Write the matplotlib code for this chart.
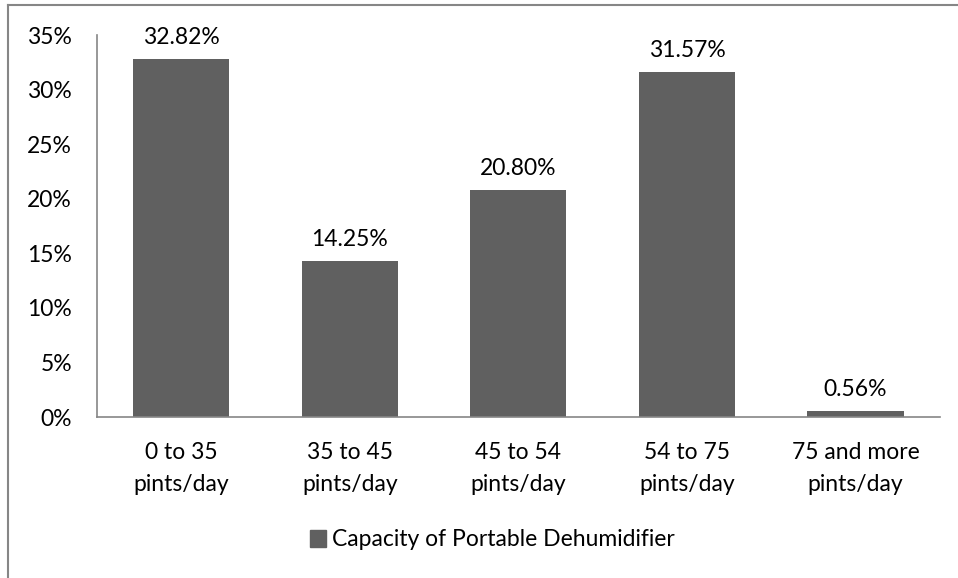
import matplotlib.pyplot as plt
from matplotlib.lines import Line2D
from matplotlib.patches import Patch

categories = ["0 to 35\npints/day", "35 to 45\npints/day", "45 to 54\npints/day",
              "54 to 75\npints/day", "75 and more\npints/day"]
values = [32.82, 14.25, 20.80, 31.57, 0.56]
yticks = [0, 5, 10, 15, 20, 25, 30, 35]
series_name = "Capacity of Portable Dehumidifier"

bar_color = "#606060"
axis_color = "#868686"
fs = 16.5
plt.rcParams['font.family'] = ['Lato', 'DejaVu Sans']

fig = plt.figure(figsize=(9.58, 5.78), dpi=100)
ax = fig.add_axes([0.1013, 0.2785, 0.8797, 0.6609])

x = range(len(values))
bars = ax.bar(x, values, width=0.57, color=bar_color, zorder=2)
for b, v in zip(bars, values):
    ax.annotate(f"{v:.2f}%", (b.get_x() + b.get_width() / 2, v),
                xytext=(0, 8), textcoords="offset points",
                ha="center", va="bottom", fontsize=fs, color="black")

ax.set_xlim(-0.5, len(values) - 0.5)
ax.set_ylim(0, 35)
ax.set_yticks(yticks)
ax.set_yticklabels([f"{t}%" for t in yticks], fontsize=fs)
ax.set_xticks(list(x))
ax.set_xticklabels(categories, fontsize=fs, linespacing=1.65)
ax.tick_params(axis="y", length=0, pad=18)
ax.tick_params(axis="x", length=0, pad=18)

for s in ["top", "right"]:
    ax.spines[s].set_visible(False)
for s in ["left", "bottom"]:
    ax.spines[s].set_color(axis_color)
    ax.spines[s].set_linewidth(1.2)

fig.legend(handles=[Patch(color=bar_color, label=series_name)],
           loc="center", bbox_to_anchor=(0.514, 1 - 540 / 578), frameon=False,
           fontsize=fs, handlelength=0.7, handleheight=0.7, handletextpad=0.3)

# outer chart frame (only left and top visible in the crop)
fig.add_artist(Line2D([8 / 958, 8 / 958], [0, 1 - 5 / 578], transform=fig.transFigure,
                      color=axis_color, lw=1.5))
fig.add_artist(Line2D([8 / 958, 1], [1 - 5 / 578, 1 - 5 / 578], transform=fig.transFigure,
                      color=axis_color, lw=1.5))

fig.savefig("out.png", dpi=100)
